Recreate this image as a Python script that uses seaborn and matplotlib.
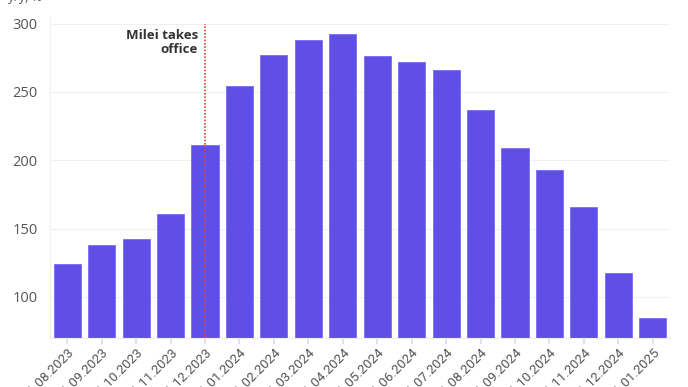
import matplotlib
matplotlib.use("Agg")
import matplotlib.pyplot as plt
import seaborn as sns
import pandas as pd

months = ["01.08.2023", "01.09.2023", "01.10.2023", "01.11.2023", "01.12.2023",
          "01.01.2024", "01.02.2024", "01.03.2024", "01.04.2024", "01.05.2024",
          "01.06.2024", "01.07.2024", "01.08.2024", "01.09.2024", "01.10.2024",
          "01.11.2024", "01.12.2024", "01.01.2025"]
inflation = [124.4, 138.3, 142.7, 160.9, 211.4, 254.2, 276.8, 287.9, 292.0, 276.4,
             271.5, 265.7, 236.7, 209.0, 193.0, 166.0, 117.8, 84.5]
yticks = [100, 150, 200, 250, 300]
event_label = "Milei takes\noffice"
event_month = "01.12.2023"
unit_label = "y/y, %"

df = pd.DataFrame({"month": months, "value": inflation})

sns.set_theme(style="white")
plt.rcParams["font.family"] = ["Open Sans", "DejaVu Sans"]

fig = plt.figure(figsize=(6.88, 3.87), dpi=100)
ax = fig.add_axes([50 / 688, 1 - 338 / 387, 620 / 688, 322 / 387])

sns.barplot(data=df, x="month", y="value", color="#5f4fe6", saturation=1,
            width=0.79, ax=ax, zorder=2, edgecolor="#7a6df0", linewidth=0.6)

ax.set_ylim(70, 305.5)
ax.set_xlim(-0.5, len(months) - 0.5)
ax.set_yticks(yticks)
ax.set_yticklabels([str(v) for v in yticks])
ax.grid(axis="y", color="#f0f0f0", linewidth=0.8, zorder=0)
ax.grid(axis="x", visible=False)
for s in ["top", "right"]:
    ax.spines[s].set_visible(False)
ax.spines["left"].set_color("#f2f2f2")
ax.spines["bottom"].set_color("#eeeee8")
ax.spines["left"].set_linewidth(0.8)
ax.spines["bottom"].set_linewidth(0.8)

ax.tick_params(axis="y", length=5, color="#eeeeee", labelsize=10.5,
               labelcolor="#555555", pad=4)
ax.tick_params(axis="x", length=4, color="#dddddd", labelsize=9.5,
               labelcolor="#555555", pad=2, bottom=True)
for lab in ax.get_xticklabels():
    lab.set_rotation(45)
    lab.set_ha("right")
    lab.set_rotation_mode("anchor")
    lab.set_fontfamily(["Roboto", "DejaVu Sans"])
ax.set_xlabel("")
ax.set_ylabel("")

ex = months.index(event_month)
ax.axvline(ex, ymin=0, ymax=(300 - 70) / (305.5 - 70), color="#d9433b",
           linestyle=(0, (1, 1)), linewidth=1.2, zorder=3)
ax.text(ex - 0.2, 296, event_label, ha="right", va="top", fontsize=9.5,
        fontweight="bold", color="#333333", linespacing=1.1)

fig.text(0.012, 1 - 1.5 / 387, unit_label, ha="left", va="baseline",
         fontsize=9, color="#555555")

fig.savefig("out.png", dpi=100)
